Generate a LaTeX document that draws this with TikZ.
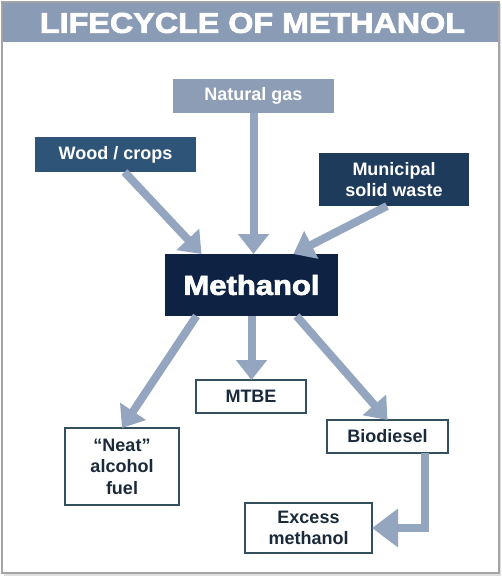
\documentclass[tikz,border=0pt]{standalone}
\usepackage{fontspec}
\setmainfont{Liberation Sans}
\newfontfamily\heavyfont[FakeBold=2.5]{Liberation Sans}
\usetikzlibrary{arrows.meta,calc}
\definecolor{titlebar}{HTML}{8A9CB5}
\definecolor{ngfill}{HTML}{8C9DB5}
\definecolor{woodfill}{HTML}{2E5577}
\definecolor{munfill}{HTML}{1F3B5B}
\definecolor{methfill}{HTML}{0E2244}
\definecolor{arrcol}{HTML}{94A6BF}
\definecolor{boxline}{HTML}{34505F}
\definecolor{txtdark}{HTML}{1B2A3A}
\definecolor{framecol}{HTML}{A4A4A4}
\tikzset{
  lbl/.style={font=\fontsize{18}{21.5}\selectfont\bfseries, align=center, inner sep=0pt, outer sep=0pt},
  filledbox/.style={lbl, text=white},
  outlinebox/.style={lbl, draw=boxline, line width=2pt, fill=white, text=txtdark},
  arr/.style={draw=arrcol, line width=8pt, -{Triangle[width=30pt,length=20pt]}},
  elbowarr/.style={draw=arrcol, line width=8pt, line join=miter, -{Triangle[width=37pt,length=26pt]}}
}
\begin{document}
\begin{tikzpicture}[x=1pt,y=-1pt]
\useasboundingbox (0,0) rectangle (502,577);
% frame and shadow
\fill[black!12] (4,4) rectangle (501,576);
\filldraw[fill=white, draw=framecol, line width=1.2pt] (2,2) rectangle (499,573);
\fill[titlebar] (3,3) rectangle (498,42);
\node[text=white, inner sep=0pt] (title) at (252.5,23) {\resizebox{425pt}{20pt}{\heavyfont\bfseries LIFECYCLE OF METHANOL}};
% nodes
\node[filledbox, fill=ngfill, minimum width=161pt, minimum height=34pt] (ng) at (253.5,96) {Natural gas};
\node[filledbox, fill=woodfill, minimum width=161pt, minimum height=35pt] (wood) at (115.5,154.5) {Wood / crops};
\node[filledbox, fill=munfill, minimum width=150pt, minimum height=53pt] (mun) at (394,179.5) {Municipal\\solid waste};
\node[filledbox, fill=methfill, minimum width=173pt, minimum height=62pt] (meth) at (251.5,285) {\resizebox{136pt}{20pt}{\heavyfont\bfseries Methanol}};
\node[outlinebox, minimum width=110pt, minimum height=33pt] (mtbe) at (251,396.5) {MTBE};
\node[outlinebox, minimum width=114pt, minimum height=77pt] (neat) at (122,466.5) {“Neat”\\alcohol\\fuel};
\node[outlinebox, minimum width=121pt, minimum height=33pt] (bio) at (387.5,436.5) {Biodiesel};
\node[outlinebox, minimum width=127pt, minimum height=50pt] (exc) at (308.5,528) {Excess\\methanol};
% connectors
\draw[arr] (ng.south) -- (ng.south |- meth.north);
\draw[arr] ([xshift=9pt]wood.south) -- ([xshift=-50pt]meth.north);
\draw[arr] ([xshift=-7pt]mun.south) -- ([xshift=42pt]meth.north);
\draw[arr] ([xshift=-55pt]meth.south) -- (neat.north);
\draw[arr] (meth.south) -- (meth.south |- mtbe.north);
\draw[arr] ([xshift=45pt]meth.south) -- (bio.north);
\draw[elbowarr] ([xshift=37pt]bio.south) |- (exc.east);
\end{tikzpicture}
\end{document}
